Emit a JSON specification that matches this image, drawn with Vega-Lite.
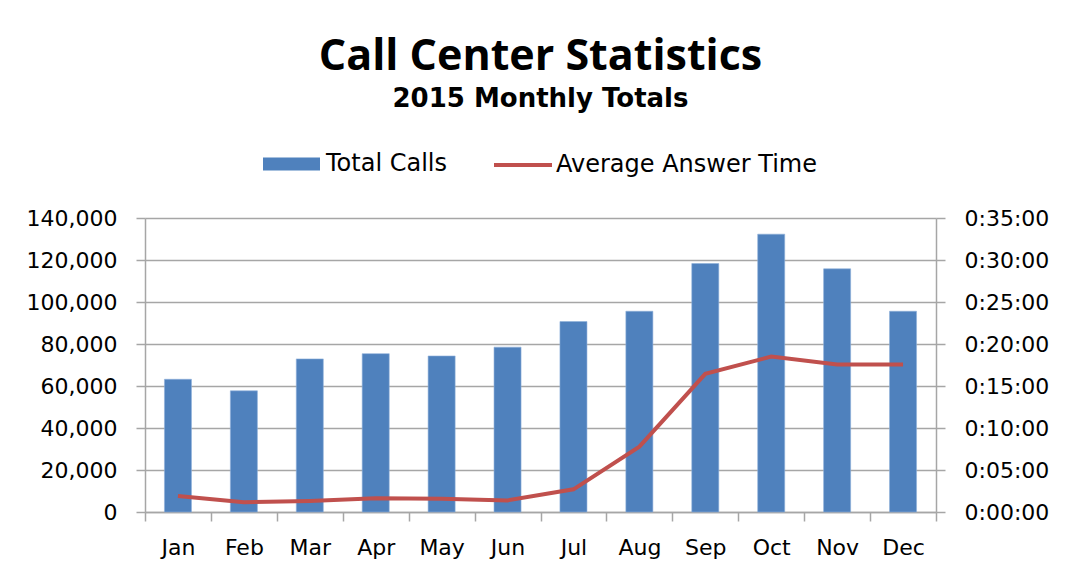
{
  "$schema": "https://vega.github.io/schema/vega-lite/v6.json",
  "width": 791,
  "height": 294,
  "autosize": {"type": "none"},
  "padding": {"left": 145, "top": 218, "right": 141, "bottom": 65},
  "background": "white",
  "title": {
    "text": "Call Center Statistics",
    "subtitle": "2015 Monthly Totals",
    "anchor": "middle",
    "font": "Open Sans",
    "fontSize": 43,
    "fontWeight": "bold",
    "color": "#000000",
    "subtitleFont": "DejaVu Sans",
    "subtitleFontSize": 26,
    "subtitleFontWeight": "bold",
    "subtitleColor": "#000000",
    "subtitlePadding": 7,
    "offset": 22
  },
  "data": {
    "values": [
      {"month": "Jan", "calls": 63200, "avg_sec": 114},
      {"month": "Feb", "calls": 57700, "avg_sec": 70},
      {"month": "Mar", "calls": 72900, "avg_sec": 79},
      {"month": "Apr", "calls": 75400, "avg_sec": 98},
      {"month": "May", "calls": 74300, "avg_sec": 95},
      {"month": "Jun", "calls": 78500, "avg_sec": 83},
      {"month": "Jul", "calls": 90700, "avg_sec": 162},
      {"month": "Aug", "calls": 95600, "avg_sec": 467},
      {"month": "Sep", "calls": 118300, "avg_sec": 987},
      {"month": "Oct", "calls": 132300, "avg_sec": 1110},
      {"month": "Nov", "calls": 115800, "avg_sec": 1054},
      {"month": "Dec", "calls": 95600, "avg_sec": 1054}
    ]
  },
  "encoding": {
    "x": {
      "field": "month",
      "type": "nominal",
      "sort": null,
      "scale": {"paddingInner": 0, "paddingOuter": 0},
      "axis": {
        "title": null,
        "labelAngle": 0,
        "tickBand": "extent",
        "tickSize": 9,
        "labelPadding": 16,
        "grid": false
      }
    }
  },
  "layer": [
    {
      "mark": {"type": "bar", "width": {"band": 0.41}, "stroke": "#8EB0DA", "strokeWidth": 0.6},
      "encoding": {
        "y": {
          "field": "calls",
          "type": "quantitative",
          "scale": {"domain": [0, 140000], "nice": false},
          "axis": {
            "title": null,
            "orient": "left",
            "values": [0, 20000, 40000, 60000, 80000, 100000, 120000, 140000],
            "format": ",d",
            "grid": true,
            "tickSize": 9,
            "labelPadding": 19
          }
        },
        "fill": {
          "datum": "Total Calls",
          "type": "nominal",
          "scale": {"range": ["#4F81BD"]},
          "legend": {
            "orient": "none",
            "legendX": 118,
            "legendY": -82.5,
            "title": null,
            "symbolType": "M-1,-0.228L1,-0.228L1,0.228L-1,0.228Z",
            "symbolSize": 3249,
            "symbolStrokeWidth": 0,
            "labelOffset": 6
          }
        }
      }
    },
    {
      "mark": {"type": "line", "strokeWidth": 4},
      "encoding": {
        "y": {
          "field": "avg_sec",
          "type": "quantitative",
          "scale": {"domain": [0, 2100], "nice": false},
          "axis": {
            "title": null,
            "orient": "right",
            "values": [0, 300, 600, 900, 1200, 1500, 1800, 2100],
            "labelExpr": "'0:' + (datum.value / 60 < 10 ? '0' : '') + (datum.value / 60) + ':00'",
            "grid": false,
            "tickSize": 9,
            "labelPadding": 19
          }
        },
        "stroke": {
          "datum": "Average Answer Time",
          "type": "nominal",
          "scale": {"range": ["#C0504D"]},
          "legend": {
            "orient": "none",
            "legendX": 347,
            "legendY": -84,
            "title": null,
            "symbolType": "stroke",
            "symbolSize": 3364,
            "symbolStrokeWidth": 4,
            "labelOffset": 2
          }
        }
      }
    }
  ],
  "resolve": {"scale": {"y": "independent"}},
  "config": {
    "view": {"stroke": null},
    "font": "DejaVu Sans",
    "axis": {
      "labelFont": "DejaVu Sans",
      "labelFontSize": 22,
      "labelColor": "#000000",
      "domainColor": "#A6A6A6",
      "tickColor": "#A6A6A6",
      "gridColor": "#A6A6A6",
      "domainWidth": 1.5,
      "tickWidth": 1.5,
      "gridWidth": 1.5
    },
    "legend": {
      "labelFont": "DejaVu Sans",
      "labelFontSize": 24,
      "labelColor": "#000000",
      "labelLimit": 400
    }
  }
}
